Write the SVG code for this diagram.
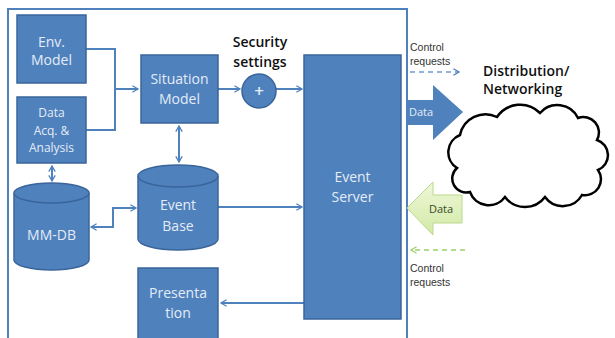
<svg xmlns="http://www.w3.org/2000/svg" width="615" height="338" viewBox="0 0 615 338">
  <style>
    .box { fill: #4f81bd; stroke: #3a659a; stroke-width: 1.5; }
    .lbl { font-family: "Open Sans", "Liberation Sans", sans-serif; font-size: 14px; fill: #e4ecf7; text-anchor: middle; }
    .sm { font-size: 12px; }
    .conn { fill: none; stroke: #4f81bd; stroke-width: 2; }
    .hdr { font-family: "Open Sans", "Liberation Sans", sans-serif; font-size: 14px; font-weight: 600; fill: #111; }
    .note { font-family: "Liberation Sans", Arial, sans-serif; font-size: 10.5px; fill: #333; }
  </style>
  <defs>
    <marker id="arrw" viewBox="0 0 10 10" refX="8" refY="5" markerWidth="8" markerHeight="8" orient="auto-start-reverse" markerUnits="userSpaceOnUse">
      <path d="M1,1 L8,5 L1,9" fill="none" stroke="#4f81bd" stroke-width="1.6"/>
    </marker>
    <marker id="arrg" viewBox="0 0 10 10" refX="8" refY="5" markerWidth="8" markerHeight="8" orient="auto" markerUnits="userSpaceOnUse">
      <path d="M1,1 L8,5 L1,9" fill="none" stroke="#9bd06a" stroke-width="1.6"/>
    </marker>
    <linearGradient id="gfill" x1="0" y1="0" x2="0" y2="1">
      <stop offset="0" stop-color="#eef7d8"/>
      <stop offset="1" stop-color="#d2eaa6"/>
    </linearGradient>
  </defs>

  <rect width="615" height="338" fill="#ffffff"/>

  <!-- enclosing system frame -->
  <path d="M8,340 L8,9 L407,9 L407,340" fill="none" stroke="#4f81bd" stroke-width="2"/>

  <!-- connectors -->
  <g id="connectors">
    <path class="conn" d="M86,49 H115 V130 H86"/>
    <path class="conn" d="M115,89 H138" marker-end="url(#arrw)"/>
    <path class="conn" d="M218,89 H240" marker-end="url(#arrw)"/>
    <path class="conn" d="M276,89 H302" marker-end="url(#arrw)"/>
    <path class="conn" d="M179,126 V162" marker-start="url(#arrw)" marker-end="url(#arrw)"/>
    <path class="conn" d="M52,166 V181" marker-start="url(#arrw)" marker-end="url(#arrw)"/>
    <path class="conn" d="M91,227 H113 V208 H136" marker-start="url(#arrw)" marker-end="url(#arrw)"/>
    <path class="conn" d="M218,207 H302" marker-end="url(#arrw)"/>
    <path class="conn" d="M304,303 H221" marker-end="url(#arrw)"/>
    <path d="M410,72 H459" fill="none" stroke="#6f9bd0" stroke-width="1.3" stroke-dasharray="5,4" marker-end="url(#arrw)"/>
    <path d="M465,250 H411" fill="none" stroke="#9bd06a" stroke-width="1.3" stroke-dasharray="5,4" marker-end="url(#arrg)"/>
  </g>

  <g id="env-model">
    <rect class="box" x="17" y="15" width="69" height="68"/>
    <text class="lbl" x="51.5" y="47">Env.</text>
    <text class="lbl" x="51.5" y="65">Model</text>
  </g>

  <g id="data-acq">
    <rect class="box" x="17" y="97" width="69" height="66"/>
    <text class="lbl sm" x="51.5" y="117">Data</text>
    <text class="lbl sm" x="51.5" y="135">Acq. &amp;</text>
    <text class="lbl sm" x="51.5" y="152">Analysis</text>
  </g>

  <g id="situation-model">
    <rect class="box" x="141" y="55" width="77" height="68"/>
    <text class="lbl" x="179.5" y="84">Situation</text>
    <text class="lbl" x="179.5" y="104">Model</text>
  </g>

  <g id="security-settings">
    <text class="hdr" x="260" y="47" text-anchor="middle">Security</text>
    <text class="hdr" x="260" y="67" text-anchor="middle">settings</text>
    <circle class="box" cx="259" cy="91" r="17"/>
    <text class="lbl" x="259" y="97" style="font-size:17px;font-weight:600">+</text>
  </g>

  <g id="event-server">
    <rect class="box" x="304" y="55" width="97" height="264"/>
    <text class="lbl" x="352.5" y="182">Event</text>
    <text class="lbl" x="352.5" y="202">Server</text>
  </g>

  <g id="event-base">
    <path class="box" d="M138,176 A40,11 0 0 1 218,176 V239 A40,11 0 0 1 138,239 Z"/>
    <path d="M138,176 A40,11 0 0 0 218,176" fill="none" stroke="#3a659a" stroke-width="1.5"/>
    <text class="lbl" x="178" y="210">Event</text>
    <text class="lbl" x="178" y="231">Base</text>
  </g>

  <g id="mm-db">
    <path class="box" d="M14,193 A37.5,10 0 0 1 89,193 V260 A37.5,10 0 0 1 14,260 Z"/>
    <path d="M14,193 A37.5,10 0 0 0 89,193" fill="none" stroke="#3a659a" stroke-width="1.5"/>
    <text class="lbl" x="51.5" y="240">MM-DB</text>
  </g>

  <g id="presentation">
    <rect class="box" x="138" y="268" width="80" height="72"/>
    <text class="lbl" x="178" y="298">Presenta</text>
    <text class="lbl" x="178" y="318">tion</text>
  </g>

  <g id="data-out">
    <polygon points="407,100 433,100 433,85 463,112 433,140 433,125 407,125" fill="#4f81bd"/>
    <text class="lbl" x="421" y="116" style="font-size:11px">Data</text>
  </g>

  <g id="data-in">
    <polygon points="407,208 433,182 433,195 462,195 462,223 433,223 433,235" fill="url(#gfill)" stroke="#b9d98c" stroke-width="1"/>
    <text x="441" y="213" text-anchor="middle" style="font-family:'Open Sans','Liberation Sans',sans-serif;font-size:11px;fill:#3b4a2a">Data</text>
  </g>

  <g id="control-out">
    <text class="note" x="410" y="51">Control</text>
    <text class="note" x="410" y="65">requests</text>
  </g>

  <g id="control-in">
    <text class="note" x="410" y="272">Control</text>
    <text class="note" x="410" y="286">requests</text>
  </g>

  <g id="distribution">
    <text class="hdr" x="483" y="76">Distribution/</text>
    <text class="hdr" x="483" y="94">Networking</text>
    <path d="M460,135 A26,26 0 0 1 497,117 A28,28 0 0 1 540,113 A23,23 0 0 1 578,118 A15.5,15.5 0 0 1 597,140 A16,16 0 0 1 598,170 A16,16 0 0 1 582,195 A22,22 0 0 1 545,197 A25,25 0 0 1 505,197 A20,20 0 0 1 470,192 A14,14 0 0 1 457,168 A18.6,18.6 0 0 1 460,135 Z" fill="#ffffff" stroke="#000" stroke-width="2.5"/>
  </g>
</svg>
